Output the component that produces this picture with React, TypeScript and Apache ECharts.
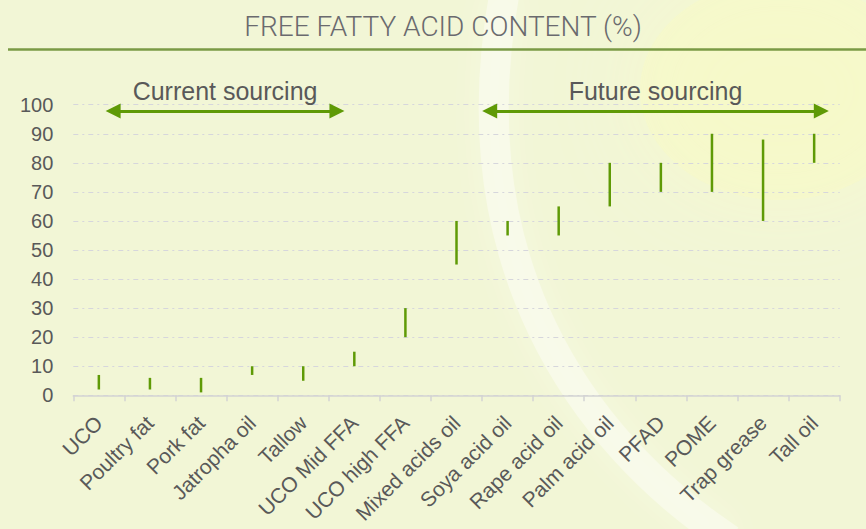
import React, { useEffect, useRef } from "react";
import * as echarts from "echarts";

const categories = [
  "UCO", "Poultry fat", "Pork fat", "Jatropha oil", "Tallow", "UCO Mid FFA",
  "UCO high FFA", "Mixed acids oil", "Soya acid oil", "Rape acid oil",
  "Palm acid oil", "PFAD", "POME", "Trap grease", "Tall oil",
];
const lowValues = [2, 2, 1, 7, 5, 10, 20, 45, 55, 55, 65, 70, 70, 60, 80];
const highValues = [7, 6, 6, 10, 10, 15, 30, 60, 60, 65, 80, 80, 90, 88, 90];
const yTicks = { min: 0, max: 100, interval: 10 };
const currentSpan = [0.78, 5.16];
const futureSpan = [8.15, 14.64];
const arrowLevel = 97.8;
const titleText = "FREE FATTY ACID CONTENT (%)";
const currentLabel = "Current sourcing";
const futureLabel = "Future sourcing";

const GREEN = "#5f9a06";
const TEXT = "#595959";
const FONT = "'Liberation Sans', Arial, sans-serif";

export default function App() {
  const ref = useRef<HTMLDivElement>(null);
  useEffect(() => {
    document.body.style.margin = "0";
    if (!ref.current) return;
    const chart = echarts.init(ref.current, undefined, { renderer: "svg" });
    const rangeData = categories.map((_, i) => [i, lowValues[i], highValues[i]]);
    const arrowLabel = (text: string) => ({
      show: true,
      formatter: text,
      position: "insideMiddleTop",
      distance: 8,
      color: TEXT,
      fontSize: 25,
      fontFamily: FONT,
    });
    chart.setOption({
      animation: false,
      backgroundColor: "#f2f6d6",
      grid: { left: 73.3, right: 26.3, top: 104.7, bottom: 133.7, containLabel: false },
      graphic: [
        {
          type: "ellipse",
          silent: true,
          z: -11,
          shape: { cx: 780, cy: 90, rx: 140, ry: 110 },
          style: { fill: "rgba(248,250,196,0.45)", shadowBlur: 80, shadowColor: "rgba(248,250,196,0.9)" },
        },
        {
          type: "bezierCurve",
          silent: true,
          z: -10,
          shape: { x1: 505, y1: -10, cpx1: 455, cpy1: 260, cpx2: 580, cpy2: 440, x2: 730, y2: 540 },
          style: { stroke: "rgba(255,255,255,0.38)", lineWidth: 30, fill: "none", shadowBlur: 30, shadowColor: "rgba(255,255,255,0.6)" },
        },
        {
          type: "line",
          silent: true,
          shape: { x1: 8, y1: 49.5, x2: 866, y2: 49.5 },
          style: { stroke: "#7a9a45", lineWidth: 2.5 },
        },
        {
          type: "text",
          silent: true,
          x: 443,
          y: 12,
          style: {
            text: titleText,
            fill: "#6a6a6e",
            fontSize: 28,
            fontWeight: 300,
            fontFamily: "Roboto, sans-serif",
            textAlign: "center",
            textVerticalAlign: "top",
          },
        },
      ],
      xAxis: [
        {
          type: "category",
          data: categories,
          boundaryGap: true,
          axisLine: { lineStyle: { color: "#d3d3d3", width: 1.5 } },
          axisTick: { show: true, length: 6, lineStyle: { color: "#d3d3d3", width: 1.5 } },
          axisLabel: { rotate: 45, interval: 0, color: TEXT, fontSize: 21, fontFamily: FONT, margin: 24 },
          splitLine: { show: false },
        },
        { type: "value", min: 0, max: 15, show: false },
      ],
      yAxis: {
        type: "value",
        min: yTicks.min,
        max: yTicks.max,
        interval: yTicks.interval,
        axisLine: { show: false },
        axisTick: { show: false },
        axisLabel: { color: TEXT, fontSize: 20, fontFamily: FONT, margin: 20 },
        splitLine: { lineStyle: { color: "#d6d6dc", type: [5, 4, 2, 4], width: 1 } },
      },
      series: [
        {
          type: "custom",
          xAxisIndex: 0,
          data: rangeData,
          encode: { x: 0, y: [1, 2] },
          renderItem: (params: any, api: any) => {
            const i = api.value(0);
            const p1 = api.coord([i, api.value(1)]);
            const p2 = api.coord([i, api.value(2)]);
            return {
              type: "line",
              shape: { x1: p1[0], y1: p1[1], x2: p2[0], y2: p2[1] },
              style: { stroke: GREEN, lineWidth: 2.5 },
            };
          },
        },
        {
          type: "line",
          xAxisIndex: 1,
          data: [],
          markLine: {
            silent: true,
            symbol: ["triangle", "triangle"],
            symbolSize: [15, 15],
            lineStyle: { color: GREEN, width: 3, type: "solid" },
            itemStyle: { color: GREEN },
            data: [
              [
                { coord: [currentSpan[0], arrowLevel], label: arrowLabel(currentLabel) },
                { coord: [currentSpan[1], arrowLevel] },
              ],
              [
                { coord: [futureSpan[0], arrowLevel], label: arrowLabel(futureLabel) },
                { coord: [futureSpan[1], arrowLevel] },
              ],
            ],
          },
        },
      ],
    });
    return () => chart.dispose();
  }, []);
  return <div ref={ref} style={{ width: 866, height: 529 }} />;
}
